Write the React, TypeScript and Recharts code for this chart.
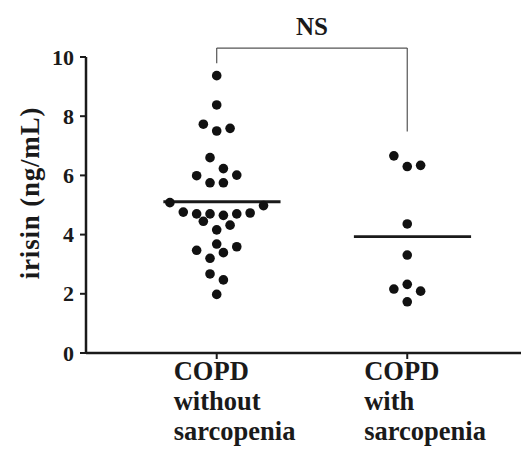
import React from 'react';
import { ScatterChart, Scatter, XAxis, YAxis, ReferenceLine, Label } from 'recharts';

// ---- data ----
const categories = ['COPD without sarcopenia', 'COPD with sarcopenia'];
const categoryLines = [
  ['COPD', 'without', 'sarcopenia'],
  ['COPD', 'with', 'sarcopenia'],
];
const yTicks = [0, 2, 4, 6, 8, 10];

const withoutValues = [
  9.37, 8.38, 7.73, 7.5, 7.59, 6.6, 6.23, 5.99, 6.01, 5.75, 5.75, 5.08, 4.98, 4.76, 4.7,
  4.7, 4.65, 4.7, 4.73, 4.45, 4.32, 4.16, 3.68, 3.47, 3.59, 3.39, 3.2, 2.67, 2.47, 1.98,
];
// beeswarm column offsets (half-columns)
const withoutOffsets = [
  0, 0, -2, 0, 2, -1, 1, -3, 3, -1, 1, -7, 7, -5, -3, -1, 1, 3, 5, -2, 2, 0, 0, -3, 3, 1, -1,
  -1, 1, 0,
];
const withValues = [6.66, 6.3, 6.34, 4.36, 3.31, 2.16, 2.32, 2.09, 1.73];
const withOffsets = [-2, 0, 2, 0, 0, -2, 0, 2, 0];

const medians = [5.11, 3.93];
const significance = 'NS';

// ---- layout constants ----
const W = 529;
const H = 457;
const HALF_STEP = 0.0351;
const X_DOMAIN: [number, number] = [0.314, 2.597];
const MEDIAN_LEFT = 0.28;
const MEDIAN_RIGHT = 0.335;
const BRACKET_TOP = 10.3;
const BRACKET_LEFT_BOTTOM = 9.79;
const BRACKET_RIGHT_BOTTOM = 7.48;

const FONT = '"Liberation Serif", "Times New Roman", serif';

const groupA = withoutValues.map((v, i) => ({ x: 1 + withoutOffsets[i] * HALF_STEP, y: v }));
const groupB = withValues.map((v, i) => ({ x: 2 + withOffsets[i] * HALF_STEP, y: v }));

const Dot = (props: any) => {
  const { cx, cy } = props;
  return <circle cx={cx} cy={cy} r={4.8} fill="#111" />;
};

const XTick = (props: any) => {
  const { x, y, payload } = props;
  const idx = Math.round(payload.value) - 1;
  const lines = categoryLines[idx] || [];
  return (
    <text
      x={x - 43}
      y={y}
      fontFamily={FONT}
      fontWeight="bold"
      fontSize={26.5}
      fill="#1a1a1a"
    >
      {lines.map((l, i) => (
        <tspan key={i} x={x - 43} dy={i === 0 ? 18.5 : 30}>
          {l}
        </tspan>
      ))}
    </text>
  );
};

const YTick = (props: any) => {
  const { x, y, payload } = props;
  return (
    <text
      x={x}
      y={y}
      dy={7.5}
      textAnchor="end"
      fontFamily={FONT}
      fontWeight="bold"
      fontSize={22}
      fill="#1a1a1a"
    >
      {payload.value}
    </text>
  );
};

export default function App() {
  return (
    <div style={{ position: 'absolute', left: 0, top: 0, background: '#fff' }}>
      <ScatterChart width={W} height={H} margin={{ top: 57, right: 8, bottom: 0, left: 0 }}>
        <XAxis
          type="number"
          dataKey="x"
          domain={X_DOMAIN}
          ticks={[1, 2]}
          height={104}
          tick={<XTick />}
          tickSize={6}
          axisLine={{ stroke: '#1a1a1a', strokeWidth: 2.5 }}
          tickLine={{ stroke: '#1a1a1a', strokeWidth: 2 }}
          allowDataOverflow
        />
        <YAxis
          type="number"
          dataKey="y"
          domain={[0, 10]}
          ticks={yTicks}
          width={86}
          tickSize={6}
          tickMargin={6}
          tick={<YTick />}
          axisLine={{ stroke: '#1a1a1a', strokeWidth: 2.5 }}
          tickLine={{ stroke: '#1a1a1a', strokeWidth: 2 }}
        >
          <Label
            content={() => (
              <text
                x={39}
                y={193}
                transform="rotate(-90 39 193)"
                textAnchor="middle"
                fontFamily={FONT}
                fontWeight="bold"
                fontSize={27}
                letterSpacing={0.8}
                fill="#1a1a1a"
              >
                irisin (ng/mL)
              </text>
            )}
          />
        </YAxis>
        <Scatter name={categories[0]} data={groupA} shape={<Dot />} isAnimationActive={false} />
        <Scatter name={categories[1]} data={groupB} shape={<Dot />} isAnimationActive={false} />
        {medians.map((m, i) => (
          <ReferenceLine
            key={i}
            segment={[
              { x: i + 1 - MEDIAN_LEFT, y: m },
              { x: i + 1 + MEDIAN_RIGHT, y: m },
            ]}
            stroke="#1a1a1a"
            strokeWidth={2.8}
          />
        ))}
        <ReferenceLine
          segment={[
            { x: 1, y: BRACKET_LEFT_BOTTOM },
            { x: 1, y: BRACKET_TOP },
          ]}
          stroke="#555"
          strokeWidth={1.2}
          ifOverflow="visible"
        />
        <ReferenceLine
          segment={[
            { x: 2, y: BRACKET_RIGHT_BOTTOM },
            { x: 2, y: BRACKET_TOP },
          ]}
          stroke="#555"
          strokeWidth={1.2}
          ifOverflow="visible"
        />
        <ReferenceLine
          segment={[
            { x: 1, y: BRACKET_TOP },
            { x: 2, y: BRACKET_TOP },
          ]}
          stroke="#555"
          strokeWidth={1.2}
          ifOverflow="visible"
          label={{
            value: significance,
            position: 'top',
            offset: 13,
            fontFamily: FONT,
            fontWeight: 'bold',
            fontSize: 25,
            fill: '#1a1a1a',
          }}
        />
      </ScatterChart>
    </div>
  );
}
